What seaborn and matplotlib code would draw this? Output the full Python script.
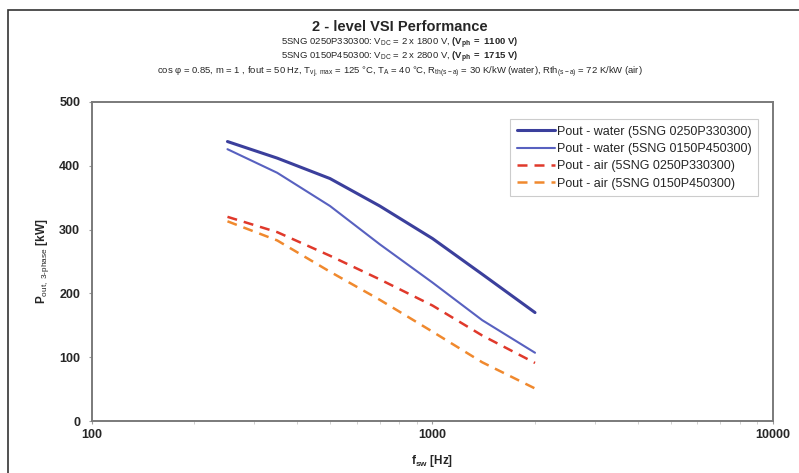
import numpy as np
import pandas as pd
import matplotlib
matplotlib.use("Agg")
import matplotlib.pyplot as plt
import matplotlib.ticker as mticker
from matplotlib.patches import Rectangle
import seaborn as sns

# switching frequency [Hz]
f_sw = [250, 350, 500, 700, 1000, 1400, 2000]

# output power [kW]
p_water_330 = [438, 412, 380, 337, 286, 230, 170]
p_water_450 = [426, 389, 337, 277, 217, 158, 107]
p_air_330 = [320, 296, 259, 222, 181, 134, 91]
p_air_450 = [313, 283, 234, 190, 140, 92, 51]

labels = ["Pout - water (5SNG 0250P330300)",
          "Pout - water (5SNG 0150P450300)",
          "Pout - air (5SNG 0250P330300)",
          "Pout - air (5SNG 0150P450300)"]

sns.set_style("white")
plt.rcParams['font.family'] = ['Liberation Sans', 'DejaVu Sans']
plt.rcParams['mathtext.fontset'] = 'custom'
plt.rcParams['mathtext.rm'] = 'Liberation Sans'
plt.rcParams['mathtext.it'] = 'Liberation Sans:italic'
plt.rcParams['mathtext.bf'] = 'Liberation Sans:bold'

fig = plt.figure(figsize=(7.99, 4.73), dpi=100)
ax = fig.add_axes([0.1151, 0.1099, 0.8524, 0.6745])

series = [p_water_330, p_water_450, p_air_330, p_air_450]
colors = ["#3b3f9c", "#5861c0", "#e0392b", "#f0892e"]
widths = [2.2, 1.5, 1.8, 1.8]
dashed = [False, False, True, True]

for vals, lab, col, lw, dsh in zip(series, labels, colors, widths, dashed):
    sns.lineplot(x=f_sw, y=vals, ax=ax, color=col, linewidth=lw, label=lab)
    if dsh:
        ax.lines[-1].set_dashes([4, 2.8])

ax.set_xscale("log")
ax.set_xlim(100, 10000)
ax.set_ylim(0, 500)
ax.set_xticks([100, 1000, 10000])
ax.xaxis.set_major_formatter(mticker.FuncFormatter(lambda v, p: f"{int(v)}"))
ax.xaxis.set_minor_locator(mticker.LogLocator(base=10, subs=np.arange(2, 10)))
ax.xaxis.set_minor_formatter(mticker.NullFormatter())
ax.set_yticks([0, 100, 200, 300, 400, 500])

for s in ax.spines.values():
    s.set_color("#7a7a7a")
    s.set_linewidth(1.4)
ax.tick_params(axis="both", which="major", direction="out", length=2.5, width=0.8,
               color="#9a9a9a", labelsize=9)
ax.tick_params(axis="x", which="major", pad=3)
ax.tick_params(axis="y", which="major", pad=6)
ax.tick_params(axis="x", which="minor", direction="out", length=2.5, width=0.6,
               color="#c8c8c8", bottom=True)
ax.tick_params(axis="y", left=True)
ax.tick_params(axis="x", bottom=True)
for t in ax.get_xticklabels() + ax.get_yticklabels():
    t.set_fontweight("bold")

ax.set_xlabel(r"$\mathbf{f_{sw}}$ [Hz]", fontsize=8.5, fontweight="bold", labelpad=9)
ax.set_ylabel(r"$\mathbf{P}_{\mathrm{out,\ 3\text{-}phase}}$ [kW]", fontsize=8.5,
              fontweight="bold", labelpad=6)

leg = ax.legend(loc="upper right", bbox_to_anchor=(0.978, 0.947), fontsize=9,
                frameon=True, fancybox=False, handlelength=3.0, handletextpad=0.15,
                borderpad=0.55, labelspacing=0.42, borderaxespad=0)
leg.get_frame().set_edgecolor("#c0c0c0")
leg.get_frame().set_linewidth(0.8)

fig.text(0.5, 1 - 27 / 473, "2 - level VSI Performance", ha="center", va="center",
         fontsize=10.5, fontweight="bold")
fig.text(0.5, 1 - 43 / 473,
         r"5SNG 0250P330300: V$_{\mathrm{DC}}$ = 2 x 1800 V, $\mathbf{(V_{ph}\ =\ 1100\ V)}$",
         ha="center", va="center", fontsize=6.8)
fig.text(0.5, 1 - 57 / 473,
         r"5SNG 0150P450300: V$_{\mathrm{DC}}$ = 2 x 2800 V, $\mathbf{(V_{ph}\ =\ 1715\ V)}$",
         ha="center", va="center", fontsize=6.8)
fig.text(0.5, 1 - 72 / 473,
         r"cos φ = 0.85, m = 1 , fout = 50 Hz, T$_{\mathrm{vj,\ max}}$ = 125 °C, "
         r"T$_{\mathrm{A}}$ = 40 °C, R$_{\mathrm{th(s-a)}}$ = 30 K/kW (water), "
         r"Rth$_{\mathrm{(s-a)}}$ = 72 K/kW (air)",
         ha="center", va="center", fontsize=6.8)

# outer frame of the original figure, clipped by the image edge
fig.patches.append(Rectangle((8 / 799, -0.2), 1.2, 1.2 - 10 / 473,
                             transform=fig.transFigure, fill=False,
                             edgecolor="#333333", linewidth=1.2))

fig.savefig("out.png", dpi=100, facecolor="white")
